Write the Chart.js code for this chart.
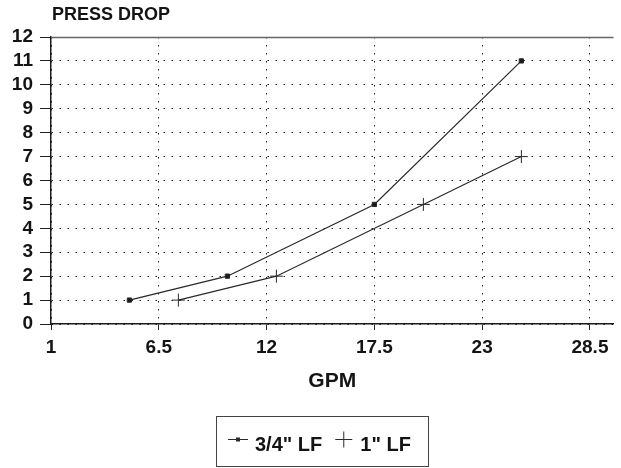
<!DOCTYPE html>
<html>
<head>
<meta charset="utf-8">
<title>Press drop vs GPM</title>
<script src="https://cdn.jsdelivr.net/npm/chart.js@4.4.1/dist/chart.umd.min.js"></script>
<style>
  html, body { margin: 0; padding: 0; background: #fff; }
  #wrap { width: 621px; height: 468px; position: relative; }
</style>
</head>
<body>
<div id="wrap"><canvas id="chart" width="621" height="468"></canvas></div>
<script>
// values
const gpmTicks = [1, 6.5, 12, 17.5, 23, 28.5];
const dropTicks = [0, 1, 2, 3, 4, 5, 6, 7, 8, 9, 10, 11, 12];
const seriesNames = ['3/4" LF', '1" LF'];
const gpmThreeQuarter = [5, 10, 17.5, 25];
const dropThreeQuarter = [1, 2, 5, 11];
const gpmOne = [7.5, 12.5, 20, 25];
const dropOne = [1, 2, 5, 7];
const yTitle = 'PRESS DROP';
const xTitle = 'GPM';

const ink = '#141414';
const fontFamily = '"Liberation Sans", Arial, Helvetica, sans-serif';

function toPoints(xs, ys) {
    return xs.map((x, i) => ({ x: x, y: ys[i] }));
}

// title above the axis, solid top edge and the boxed legend under the x title
const titleAndLegend = {
    id: 'titleAndLegend',
    beforeDatasetsDraw(chart) {
        const ctx = chart.ctx;
        const area = chart.chartArea;
        ctx.save();
        ctx.strokeStyle = '#666';
        ctx.lineWidth = 1.5;
        ctx.beginPath();
        ctx.moveTo(area.left, Math.round(area.top) + 0.5);
        ctx.lineTo(area.right, Math.round(area.top) + 0.5);
        ctx.stroke();
        ctx.restore();
    },
    afterDraw(chart) {
        const ctx = chart.ctx;
        const area = chart.chartArea;
        ctx.save();
        ctx.fillStyle = ink;
        ctx.textBaseline = 'alphabetic';
        ctx.font = 'bold 18px ' + fontFamily;
        ctx.fillText(yTitle, area.left + 1, 20);

        // legend box
        const box = { left: 216, top: 416, width: 212, height: 50 };
        ctx.strokeStyle = '#444';
        ctx.lineWidth = 1;
        ctx.strokeRect(box.left + 0.5, box.top + 0.5, box.width, box.height);

        ctx.font = 'bold 20px ' + fontFamily;
        const baseline = 451;
        const markY = 439.5;
        let cx = box.left + 12;
        chart.data.datasets.forEach((ds) => {
            ctx.strokeStyle = ds.borderColor;
            ctx.fillStyle = ds.borderColor;
            ctx.lineWidth = 1;
            if (ds.pointStyle === 'rect') {
                ctx.beginPath();
                ctx.moveTo(cx, markY);
                ctx.lineTo(cx + 20, markY);
                ctx.stroke();
                ctx.fillRect(cx + 8, markY - 2, 4, 4);
                cx += 27;
            } else {
                ctx.beginPath();
                ctx.moveTo(cx, markY);
                ctx.lineTo(cx + 17, markY);
                ctx.moveTo(cx + 8.5, markY - 8);
                ctx.lineTo(cx + 8.5, markY + 8);
                ctx.stroke();
                cx += 25;
            }
            ctx.fillStyle = ink;
            ctx.fillText(ds.label, cx, baseline);
            cx += ctx.measureText(ds.label).width + 13;
        });
        ctx.restore();
    }
};

new Chart(document.getElementById('chart'), {
    type: 'line',
    data: {
        datasets: [{
            label: seriesNames[0],
            data: toPoints(gpmThreeQuarter, dropThreeQuarter),
            borderColor: '#2a2a2a',
            backgroundColor: '#1a1a1a',
            borderWidth: 1.2,
            pointStyle: 'rect',
            pointRadius: 3,
            pointBorderWidth: 1,
            tension: 0
        }, {
            label: seriesNames[1],
            data: toPoints(gpmOne, dropOne),
            borderColor: '#2a2a2a',
            backgroundColor: '#2a2a2a',
            borderWidth: 1.2,
            pointStyle: 'cross',
            pointRadius: 6.5,
            pointBorderWidth: 1,
            tension: 0
        }]
    },
    options: {
        responsive: false,
        animation: false,
        devicePixelRatio: 1,
        layout: { padding: { top: 37, bottom: 70, left: 0, right: 0 } },
        plugins: {
            legend: { display: false },
            title: { display: false },
            tooltip: { enabled: false }
        },
        scales: {
            x: {
                type: 'linear',
                min: 1,
                max: 29.7,
                afterBuildTicks: (scale) => {
                    scale.ticks = gpmTicks.map(v => ({ value: v }));
                },
                afterFit: (scale) => {
                    scale.height = 74;
                    scale.paddingLeft = 0;
                    scale.paddingRight = 0;
                },
                ticks: {
                    color: ink,
                    padding: 6,
                    maxRotation: 0,
                    autoSkip: false,
                    font: { family: fontFamily, size: 19, weight: 'bold' },
                    callback: (v) => String(v)
                },
                grid: {
                    color: '#222',
                    lineWidth: 1,
                    tickLength: 6,
                    tickColor: '#222',
                    tickWidth: 1
                },
                border: { display: true, color: '#1a1a1a', width: 1.5, dash: [1.5, 6.5] },
                title: {
                    display: true,
                    text: xTitle,
                    color: ink,
                    padding: { top: 0, bottom: 4 },
                    font: { family: fontFamily, size: 21, weight: 'bold' }
                }
            },
            y: {
                min: 0,
                max: 12,
                afterBuildTicks: (scale) => {
                    scale.ticks = dropTicks.map(v => ({ value: v }));
                },
                afterFit: (scale) => {
                    scale.width = 51;
                },
                ticks: {
                    color: ink,
                    padding: 7,
                    autoSkip: false,
                    font: { family: fontFamily, size: 19, weight: 'bold' }
                },
                grid: {
                    color: '#222',
                    lineWidth: 1,
                    tickLength: 11,
                    tickColor: '#222',
                    tickWidth: 1
                },
                border: { display: true, color: '#1a1a1a', width: 1.5, dash: [1.5, 6.5] }
            }
        }
    },
    plugins: [titleAndLegend]
});
</script>
</body>
</html>
